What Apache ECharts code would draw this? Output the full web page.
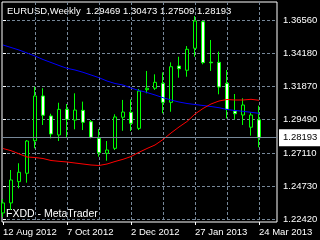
<!DOCTYPE html>
<html><head><meta charset="utf-8">
<script src="https://cdn.jsdelivr.net/npm/echarts@6/dist/echarts.min.js"></script>
<style>html,body{margin:0;padding:0;background:#000;}#c{width:320px;height:240px;}</style>
</head><body><div id="c"></div>
<script>
const symbol = 'EURUSD';
const period = 'Weekly';
const broker = 'FXDD - MetaTrader';
// weekly candles, index 0 = week of 12 Aug 2012
const opens  = [1.2285,1.2356,1.2507,1.2567,1.2798,1.3116,1.2974,1.2839,1.3021,1.2945,1.3014,1.2933,1.2815,1.2709,1.2744,1.2965,1.3000,1.2886,1.3161,1.3171,1.3206,1.3071,1.3329,1.3299,1.3455,1.3644,1.3356,1.3355,1.3206,1.3009,1.2981,1.2894,1.29469];
const highs  = [1.2384,1.2590,1.2638,1.2803,1.3182,1.3171,1.2990,1.3068,1.3059,1.3135,1.3076,1.2945,1.2881,1.2796,1.2986,1.3088,1.3092,1.3166,1.3294,1.3270,1.3284,1.3355,1.3395,1.3471,1.3684,1.3649,1.3514,1.3431,1.3301,1.3130,1.3100,1.3000,1.30473];
const lows   = [1.2256,1.2306,1.2460,1.2500,1.2744,1.2910,1.2815,1.2796,1.2817,1.2879,1.2874,1.2815,1.2685,1.2656,1.2732,1.2869,1.2867,1.2874,1.3135,1.3159,1.2993,1.3004,1.3246,1.3253,1.3395,1.3341,1.3294,1.3128,1.2957,1.2950,1.2910,1.2834,1.27509];
const closes = [1.2356,1.2519,1.2574,1.2796,1.3116,1.2979,1.2846,1.3021,1.2950,1.3016,1.2929,1.2822,1.2713,1.2732,1.2967,1.3002,1.2922,1.3151,1.3171,1.3213,1.3071,1.3324,1.3310,1.3448,1.3649,1.3353,1.3352,1.3180,1.3021,1.2990,1.3052,1.2981,1.28193];
const maSlow = [1.34784,1.34606,1.34428,1.34215,1.34002,1.33753,1.33540,1.33327,1.33128,1.33007,1.32844,1.32652,1.32460,1.32225,1.32048,1.31941,1.31728,1.31550,1.31408,1.31231,1.31039,1.30875,1.30733,1.30627,1.30555,1.30484,1.30413,1.30328,1.30200,1.30129,1.30072,1.30001,1.29930];
const maFast = [1.27429,1.27273,1.27052,1.26825,1.26789,1.26718,1.26576,1.26519,1.26470,1.26398,1.26327,1.26256,1.26221,1.26327,1.26505,1.26661,1.26860,1.27159,1.27429,1.27678,1.28068,1.28530,1.28957,1.29347,1.29880,1.30271,1.30591,1.30804,1.30911,1.30875,1.30875,1.30925,1.30854];
const priceTicks = [1.22420,1.24730,1.27110,1.29490,1.31870,1.34180,1.36560];
const dateTickWeeks = [0, 8, 16, 24, 32];
const dateTickLabels = ['12 Aug 2012','7 Oct 2012','2 Dec 2012','27 Jan 2013','24 Mar 2013'];
const gridWeeks = [4, 8, 12, 16, 20, 24, 28, 32];

const FONT = '"Liberation Sans",Arial,sans-serif';
const n = opens.length;
const candleData = opens.map((o, i) => [i, o, closes[i], lows[i], highs[i]]);
const slowData = maSlow.map((v, i) => [i, v]);
const fastData = maFast.map((v, i) => [i, v]);
const last = n - 1;
const header = symbol + ',' + period + '  ' + [opens[last], highs[last], lows[last], closes[last]].map(v => v.toFixed(5)).join(' ');

const chart = echarts.init(document.getElementById('c'), null, {renderer: 'canvas'});
const xMin = -0.125, xMax = 34.25;
chart.setOption({
  animation: false,
  backgroundColor: '#000',
  grid: {left: 2, top: 2, width: 275, height: 220, show: true, borderColor: '#fff', borderWidth: 1, backgroundColor: 'transparent', containLabel: false, outerBoundsMode: 'none'},
  xAxis: [{
    type: 'value', min: xMin, max: xMax,
    axisLine: {show: false},
    axisTick: {show: true, length: 3, lineStyle: {color: '#fff'}, customValues: dateTickWeeks},
    axisLabel: {show: true, customValues: dateTickWeeks, align: 'left', margin: 5, color: '#fff', fontFamily: FONT, fontSize: 9.5,
      formatter: v => dateTickLabels[dateTickWeeks.indexOf(Math.round(v))] || ''},
    splitLine: {show: false}
  }, {
    type: 'value', min: xMin, max: xMax, position: 'bottom',
    axisLine: {show: false},
    axisTick: {show: false, customValues: gridWeeks},
    axisLabel: {show: false, customValues: gridWeeks},
    splitLine: {show: true, lineStyle: {color: '#778899', type: [3, 2], width: 1}}
  }],
  yAxis: {
    type: 'value', position: 'right', min: 1.22206, max: 1.37839,
    axisLine: {show: false},
    axisTick: {show: true, length: 3, lineStyle: {color: '#fff'}, customValues: priceTicks},
    axisLabel: {show: true, customValues: priceTicks, margin: 6, color: '#fff', fontFamily: FONT, fontSize: 9.5, formatter: v => v.toFixed(5)},
    splitLine: {show: true, lineStyle: {color: '#778899', type: [3, 2], width: 1}}
  },
  series: [{
    type: 'candlestick', xAxisIndex: 0, data: candleData, barWidth: 4,
    itemStyle: {color: '#000', color0: '#fff', borderColor: '#00ff00', borderColor0: '#00ff00', borderWidth: 1},
    markLine: {
      silent: true, symbol: ['none', 'none'], precision: 5,
      lineStyle: {color: '#778899', type: 'solid', width: 1},
      label: {show: true, position: 'end', distance: 2, formatter: () => closes[last].toFixed(5),
        backgroundColor: '#fff', color: '#000', padding: [4, 4, 3, 4], fontFamily: FONT, fontSize: 9.5},
      data: [{yAxis: closes[last]}]
    }
  }, {
    type: 'line', xAxisIndex: 0, data: slowData, symbol: 'none', lineStyle: {color: '#0000ff', width: 1}
  }, {
    type: 'line', xAxisIndex: 0, data: fastData, symbol: 'none', lineStyle: {color: '#ff0000', width: 1}
  }],
  graphic: [
    {type: 'text', x: 7, y: 11, silent: true, style: {text: header, fill: '#fff', font: '9.5px ' + FONT, verticalAlign: 'middle'}},
    {type: 'text', x: 6, y: 214, silent: true, style: {text: broker, fill: '#fff', font: '10.5px ' + FONT, verticalAlign: 'middle'}}
  ]
});
</script>
</body></html>
